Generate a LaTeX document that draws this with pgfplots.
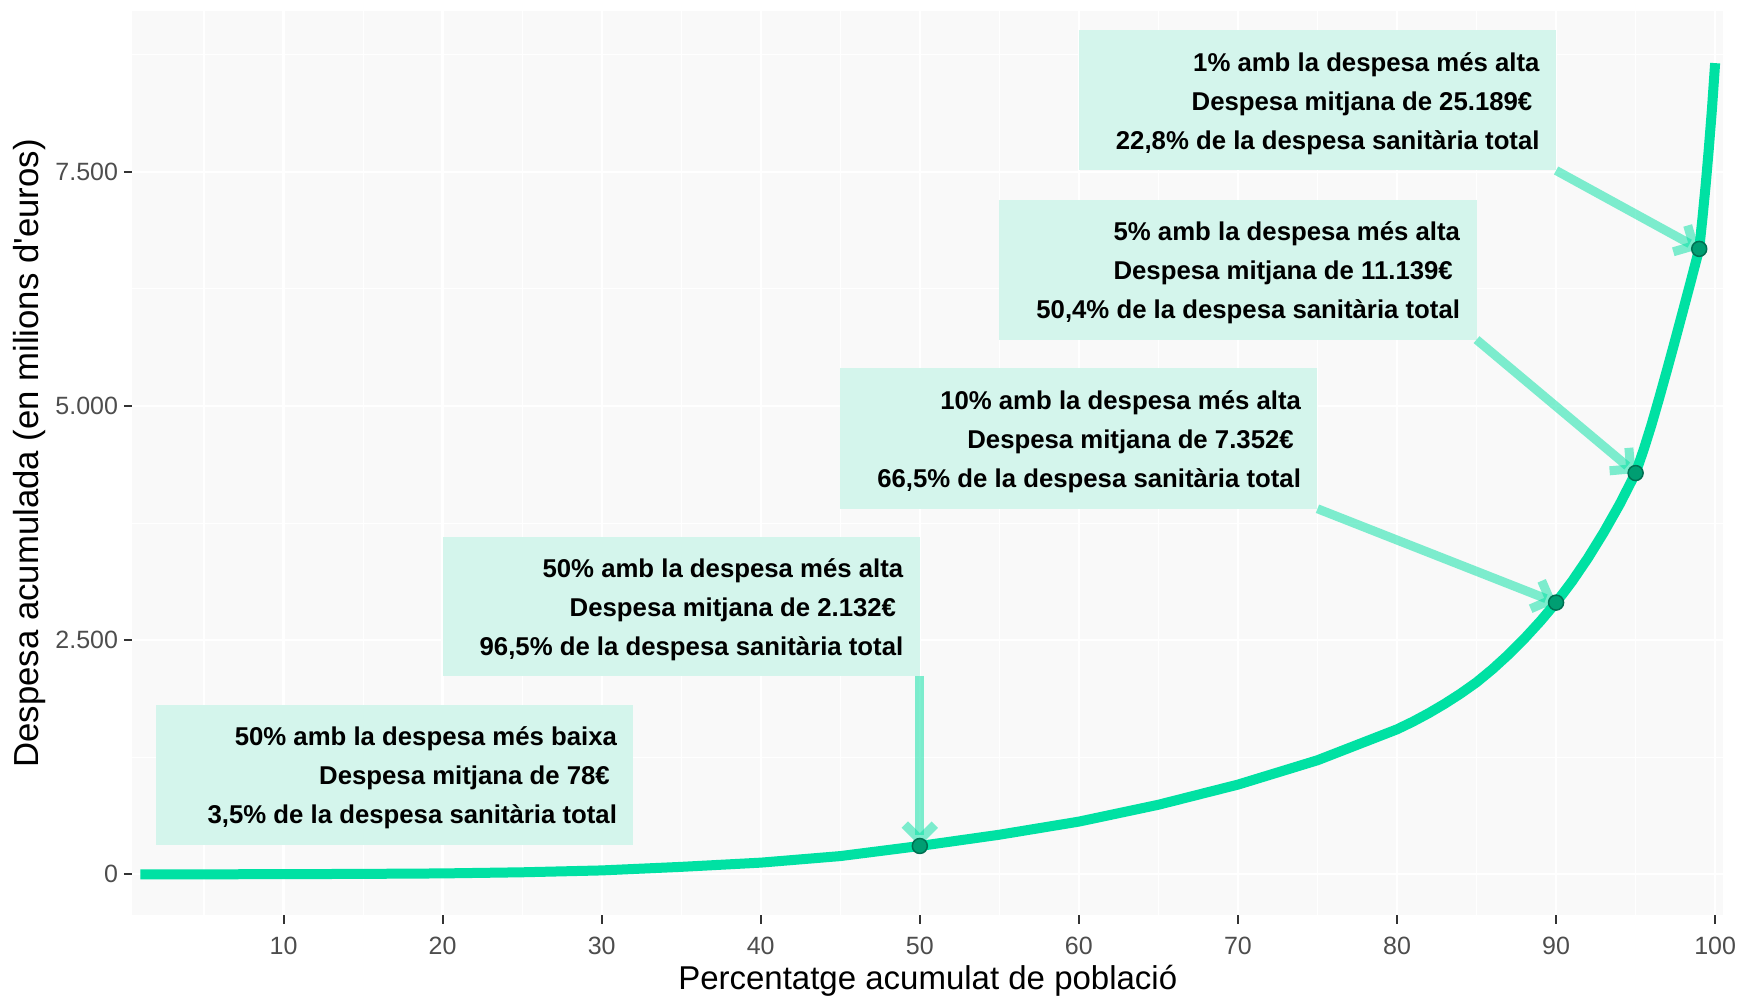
\documentclass[border=0pt]{standalone}
\usepackage{fontspec}
\setmainfont{Liberation Sans}
\usepackage{pgfplots}
\pgfplotsset{compat=1.18}
\usetikzlibrary{arrows.meta}

\definecolor{curve}{RGB}{0,225,163}
\definecolor{boxfill}{RGB}{212,245,236}
\definecolor{panelbg}{RGB}{249,249,249}
\definecolor{ptfill}{RGB}{0,158,114}
\definecolor{ptdraw}{RGB}{0,112,82}
\definecolor{ticklab}{RGB}{77,77,77}
\definecolor{tickcol}{RGB}{51,51,51}

% box: x left, x right, y bottom, y top, three lines
\newcommand{\annot}[7]{%
  \fill[boxfill] (axis cs:#1,#3) rectangle (axis cs:#2,#4);
  \node[anchor=base east, inner sep=0pt, font=\annfont] at ([xshift=-6.4pt,yshift=-16.4pt]axis cs:#2,#4) {#5};
  \node[anchor=base east, inner sep=0pt, font=\annfont] at ([xshift=-6.4pt,yshift=-32pt]axis cs:#2,#4) {#6};
  \node[anchor=base east, inner sep=0pt, font=\annfont] at ([xshift=-6.4pt,yshift=-47.6pt]axis cs:#2,#4) {#7};
}
\newcommand{\annfont}{\fontsize{10.3}{12}\selectfont\bfseries}
\newcommand{\tsp}{\hspace*{0.28em}}

\begin{document}
\begin{tikzpicture}
\path[use as bounding box] (-53pt,-34pt) rectangle (642.6pt,366pt);
\begin{axis}[
  at={(0,0)}, anchor=south west,
  width=636.2pt, height=361.7pt, scale only axis,
  xmin=0.505, xmax=100.495, ymin=-434, ymax=9219,
  axis background/.style={fill=panelbg},
  axis line style={draw=none},
  xtick={10,20,...,100}, ytick={0,2500,5000,7500},
  minor xtick={5,15,...,95}, minor ytick={1250,3750,6250,8750},
  grid=both,
  major grid style={white, line width=0.9pt},
  minor grid style={white, line width=0.45pt},
  xtick pos=bottom, ytick pos=left, tick align=outside,
  major tick length=3.4pt, minor tick length=0pt,
  tick style={tickcol, line width=0.8pt},
  scaled y ticks=false,
  /pgf/number format/assume math mode=true,
  /pgf/number format/1000 sep={.},
  ticklabel style={font=\fontsize{10}{12}\selectfont, text=ticklab, inner sep=0pt},
  xticklabel style={anchor=center},
  xticklabel shift=8.8pt,
  yticklabel style={anchor=east, xshift=-2.2pt},
  xlabel={Percentatge acumulat de població},
  ylabel={Despesa acumulada (en milions d\textquotesingle euros)},
  xlabel style={font=\fontsize{13.2}{15}\selectfont, at={([yshift=-26.4pt]axis description cs:0.5,0)}, anchor=center},
  ylabel style={font=\fontsize{13.9}{16}\selectfont, at={([xshift=-41.3pt,yshift=3.8pt]axis description cs:0,0.5)}, anchor=center, rotate=0},
]
\addplot[curve, line width=4pt, line join=round] coordinates {
 (1,0) (5,0.5) (10,2) (15,5) (20,10) (25,22) (30,42) (35,80) (40,125) (45,195)
 (50,303) (55,423) (60,563) (65,743) (70,958) (75,1218) (80,1548)
 (81,1630) (82,1721) (83,1821) (84,1930) (85,2050) (86,2190) (87,2345) (88,2515) (89,2700)
 (90,2901) (91,3126) (92,3376) (93,3651) (94,3951) (95,4284)
 (95.5,4530) (96,4800) (96.5,5095) (97,5400) (97.5,5712) (98,6030) (98.5,6350)
 (99,6677) (99.2,7000) (99.4,7350) (99.6,7740) (99.8,8170) (100,8660)
};
\addplot[only marks, mark=*, mark size=3pt, mark options={fill=ptfill, draw=ptdraw, line width=0.6pt}]
 coordinates {(50,303) (90,2901) (95,4284) (99,6677)};

\annot{2}{32}{313}{1808}{50\% amb la despesa més baixa}{Despesa mitjana de 78€\tsp}{3,5\% de la despesa sanitària total}
\annot{20}{50}{2119}{3604}{50\% amb la despesa més alta}{Despesa mitjana de 2.132€\tsp}{96,5\% de la despesa sanitària total}
\annot{45}{75}{3903}{5405}{10\% amb la despesa més alta}{Despesa mitjana de 7.352€\tsp}{66,5\% de la despesa sanitària total}
\annot{55}{85}{5708}{7204}{5\% amb la despesa més alta}{Despesa mitjana de 11.139€\tsp}{50,4\% de la despesa sanitària total}
\annot{60}{90}{7514}{9009}{1\% amb la despesa més alta}{Despesa mitjana de 25.189€\tsp}{22,8\% de la despesa sanitària total}

\addplot[curve, draw opacity=0.5, line width=3.6pt, -{Straight Barb[length=6pt,width=12pt]}] coordinates {(50,2119) (50,303)};
\addplot[curve, draw opacity=0.5, line width=3.6pt, -{Straight Barb[length=6pt,width=12pt]}] coordinates {(75,3903) (90,2901)};
\addplot[curve, draw opacity=0.5, line width=3.6pt, -{Straight Barb[length=6pt,width=12pt]}] coordinates {(85,5708) (95,4284)};
\addplot[curve, draw opacity=0.5, line width=3.6pt, -{Straight Barb[length=6pt,width=12pt]}] coordinates {(90,7514) (99,6677)};
\end{axis}
\end{tikzpicture}
\end{document}
